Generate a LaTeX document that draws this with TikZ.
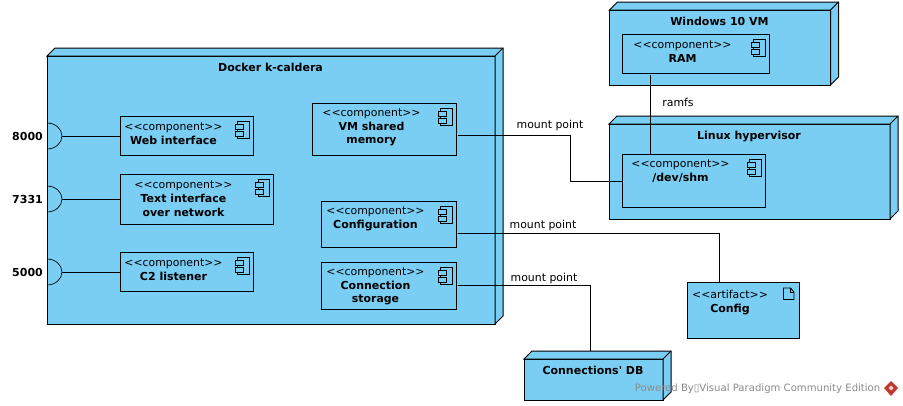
\documentclass[tikz,border=0pt]{standalone}
\usepackage{fontspec}
\setmainfont{DejaVu Sans}
\newfontfamily\plainfont{DejaVu Sans}
\usetikzlibrary{positioning}
\definecolor{nodeblue}{HTML}{7ACEF4}
\definecolor{markgray}{HTML}{8A8A8A}
\definecolor{markred}{HTML}{C0392F}
\tikzset{
    uml/.style={draw=black,fill=nodeblue,line width=1pt,inner sep=0pt,outer sep=0pt},
    wire/.style={draw=black,line width=0.9pt},
    txt/.style={inner sep=0pt,font=\fontsize{10.9}{13.8}\selectfont,align=center},
    title/.style={txt,font=\fontsize{11}{13.8}\selectfont\bfseries}
}
\def\stereo{<{}<component>{}>}
% front face first, then the two faces behind it
\def\cube#1#2#3#4#5{
    \node[uml,minimum width=#3,minimum height=#4] (#1) at (#2) {};
    \filldraw[uml] (#1.north west) -- ++(8,-8) -- ([shift={(8pt,8pt)}]#1.north east)
        -- ([shift={(8pt,8pt)}]#1.south east) -- (#1.south east) -- (#1.north east) -- cycle;
    \draw[uml,fill=none] (#1.north east) -- ++(8,-8);
    \node[title,below=6.5pt of #1.north,xshift=-0.5pt] (#1title) {#5};
}
\def\icon#1{
    \draw[uml,line width=0.9pt] ([shift={(-15.3pt,-5pt)}]#1.north east) rectangle ++(11.3,17);
    \draw[uml,line width=0.9pt] ([shift={(-18pt,-8pt)}]#1.north east) rectangle ++(8.3,5);
    \draw[uml,line width=0.9pt] ([shift={(-18pt,-15.5pt)}]#1.north east) rectangle ++(8.3,4.5);
}
\def\comp#1#2#3#4#5#6{
    \node[uml,minimum width=#3,minimum height=#4] (#1) at (#2) {};
    \icon{#1}
    \node[txt] (#1text) at (#5) {\stereo\\\fontsize{11}{13.8}\selectfont\bfseries #6};
}
\begin{document}
\begin{tikzpicture}[x=1pt,y=-1pt]
    \useasboundingbox (0,0) rectangle (903,405);
    \cube{docker}{271,190}{448pt}{268pt}{Docker k-caldera}
    \cube{windows}{720,47.5}{221pt}{75pt}{Windows 10 VM}
    \cube{linux}{749.5,171.5}{281pt}{95pt}{Linux hypervisor}
    \cube{conndb}{593.5,379.5}{139pt}{41pt}{\plainfont Connections' DB}

    \comp{web}{186.5,135.5}{133pt}{39pt}{173.5,134}{Web interface}
    \comp{textnet}{196.75,199.25}{153.5pt}{50pt}{183.5,198.5}{Text interface\\\bfseries over network}
    \comp{ctwo}{186.5,271.5}{133pt}{39pt}{173.5,270}{C2 listener}
    \comp{vmshm}{384,129}{144pt}{52pt}{371.5,127.5}{VM shared\\\bfseries memory}
    \comp{config}{388.5,224}{135pt}{46pt}{375.5,219}{Configuration}
    \comp{connstore}{388.5,285.5}{135pt}{47pt}{375.5,286.5}{Connection\\\bfseries storage}
    \comp{ram}{695.5,53.5}{147pt}{39pt}{682.5,51.5}{RAM}
    \comp{shm}{693.5,180.5}{143pt}{53pt}{680.5,171}{/dev/shm}

    \node[uml,minimum width=112pt,minimum height=56pt] (artifact) at (743,310) {};
    \draw[uml,line width=0.9pt] ([shift={(-15.5pt,-6pt)}]artifact.north east) -- ++(7,0) -- ++(3.5,4) -- ++(0,7.5) -- ++(-10.5,0) -- cycle;
    \draw[uml,fill=none,line width=0.7pt] ([shift={(-8.5pt,-6pt)}]artifact.north east) -- ++(0,4) -- ++(3.5,0);
    \node[txt] (artifacttext) at (730,302.5) {<{}<artifact>{}>\\\fontsize{11}{13.8}\selectfont\bfseries Config};

    % ports on the left edge
    \foreach \port/\ypos/\target in {8000/136/web,7331/199/textnet,5000/272/ctwo}{
        \coordinate (tip\port) at (62,\ypos);
        \draw[line width=0.7pt] (47,\ypos+13) arc[start angle=90,end angle=-90,x radius=15,y radius=13];
        \node[title] (port\port) at (27.5,\ypos) {\port};
        \draw[wire] (tip\port) -- (tip\port -| \target.west);
    }

    \draw[wire] ([shift={(1.5pt,-6pt)}]vmshm.east) -- ++(112.5,0) |- ([yshift=-0.5pt]shm.west);
    \draw[wire] ([xshift=-45pt,yshift=-2pt]ram.south) -- ([xshift=-43pt]shm.north);
    \draw[wire] ([shift={(1.5pt,-9pt)}]config.east) -| ([xshift=-24pt]artifact.north);
    \draw[wire] ([xshift=1.5pt]connstore.east) -| ([xshift=-3.5pt,yshift=8pt]conndb.north);

    \node[txt] (mount1) at (550,125.5) {mount point};
    \node[txt] (ramfs) at (678,102) {ramfs};
    \node[txt] (mount2) at (543,225.5) {mount point};
    \node[txt] (mount3) at (544,278.5) {mount point};

    % watermark
    \node[txt,text=markgray,font=\fontsize{10.1}{12}\selectfont,anchor=east] (mark) at (880.5,389) {Powered By▯Visual Paradigm Community Edition};
    \fill[markred] (891,381) -- (898,388) -- (891,396) -- (884,388) -- cycle;
    \fill[white!75!markred] (891,385.5) -- (893.5,388) -- (891,390.5) -- (888.5,388) -- cycle;
\end{tikzpicture}
\end{document}
